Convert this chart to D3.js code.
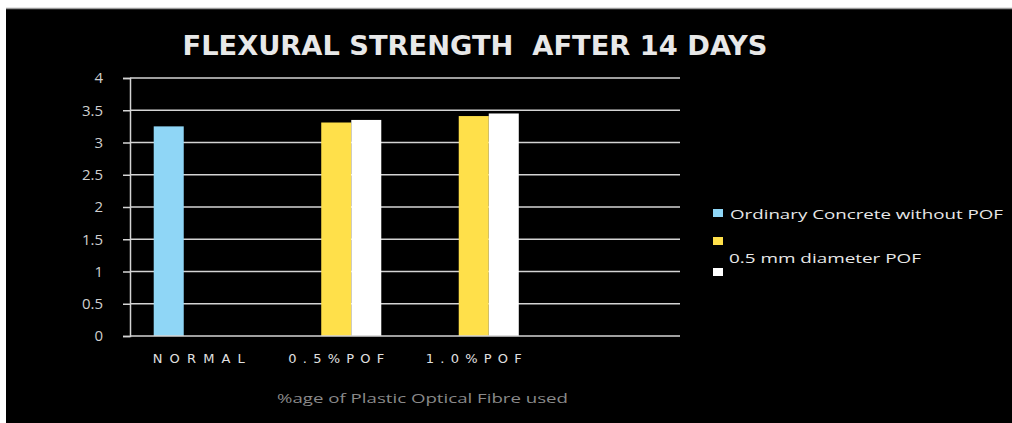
<!DOCTYPE html>
<html>
<head>
<meta charset="utf-8">
<script src="https://cdn.jsdelivr.net/npm/d3@7"></script>
<style>
  body { margin: 0; background: #fff; }
  svg { display: block; }
</style>
</head>
<body>
<div id="chart"></div>
<script>
// chart data
var categories = ["NORMAL", "0.5%POF", "1.0%POF", ""];
var seriesNames = ["Ordinary Concrete without POF", "0.5 mm diameter POF", "1.0 mm diameter POF"];
var seriesColors = ["#8fd6f6", "#ffe04a", "#ffffff"];
var ordinaryValues = [3.25, null, null, null];
var halfMmValues = [null, 3.31, 3.41, null];
var oneMmValues = [null, 3.35, 3.45, null];
var yTicks = [0, 0.5, 1, 1.5, 2, 2.5, 3, 3.5, 4];

var W = 1012, H = 423;
var margins = {top: 78, right: 332, bottom: 87, left: 130};

var svg = d3.select("#chart").append("svg")
    .attr("width", W)
    .attr("height", H);

// frame: black panel with white strip top/left
svg.append("rect").attr("x", 0).attr("y", 0).attr("width", W).attr("height", H).style("fill", "#fff");
svg.append("rect").attr("x", 6).attr("y", 8).attr("width", W - 6).attr("height", H - 8).style("fill", "#000");
svg.append("line").attr("x1", 6).attr("x2", W).attr("y1", 8.5).attr("y2", 8.5)
    .style("stroke", "#9a9a9a").style("stroke-width", 1.5);

var x = d3.scaleBand()
    .domain(categories)
    .range([margins.left, W - margins.right])
    .paddingInner(0.345)
    .paddingOuter(0.1725);

var xSeries = d3.scaleBand()
    .domain(d3.range(seriesNames.length))
    .range([0, x.bandwidth()]);

var y = d3.scaleLinear()
    .domain([0, 4])
    .range([H - margins.bottom, margins.top]);

// gridlines
svg.selectAll("line.grid")
    .data(yTicks.slice(1))
    .enter().append("line")
    .attr("class", "grid")
    .attr("x1", margins.left)
    .attr("x2", W - margins.right)
    .attr("y1", d => y(d))
    .attr("y2", d => y(d))
    .style("stroke", "#d4d4d4")
    .style("stroke-width", 1.5);

// bars
var allSeries = [ordinaryValues, halfMmValues, oneMmValues];
allSeries.forEach(function(vals, si) {
    svg.selectAll(".bar-s" + si)
        .data(vals.map((v, i) => ({cat: categories[i], value: v})).filter(d => d.value != null))
        .enter().append("rect")
        .attr("class", "bar-s" + si)
        .attr("x", d => x(d.cat) + xSeries(si))
        .attr("width", xSeries.bandwidth())
        .attr("y", d => y(d.value))
        .attr("height", d => y(0) - y(d.value))
        .style("fill", seriesColors[si]);
});

// y axis
var yAxis = d3.axisLeft(y)
    .tickValues(yTicks)
    .tickSize(7)
    .tickPadding(20)
    .tickFormat(d3.format("~g"));

svg.append("g")
    .attr("class", "y axis")
    .attr("transform", "translate(" + margins.left + ",0)")
    .call(yAxis)
    .call(g => g.selectAll("line").style("stroke", "#d4d4d4").style("stroke-width", 1.5))
    .call(g => g.select(".domain").style("stroke", "#d4d4d4").style("stroke-width", 1.5))
    .selectAll("text")
    .style("fill", "#cfcfcf")
    .style("font-family", "Open Sans, sans-serif")
    .style("font-size", "15px");

// x axis
svg.append("line")
    .attr("x1", margins.left).attr("x2", W - margins.right)
    .attr("y1", y(0)).attr("y2", y(0))
    .style("stroke", "#d4d4d4").style("stroke-width", 1.5);

svg.selectAll(".xlabel")
    .data(categories.filter(c => c !== ""))
    .enter().append("text")
    .attr("class", "xlabel")
    .attr("x", d => x(d) + x.bandwidth() / 2)
    .attr("y", 363)
    .attr("text-anchor", "middle")
    .attr("textLength", d => d === "NORMAL" ? 92 : 96)
    .attr("lengthAdjust", "spacing")
    .style("fill", "#e0e0e0")
    .style("font-family", "DejaVu Sans, sans-serif")
    .style("font-size", "13px")
    .text(d => d);

// title
svg.append("text")
    .attr("x", 475)
    .attr("y", 55)
    .attr("text-anchor", "middle")
    .attr("textLength", 585)
    .attr("lengthAdjust", "spacingAndGlyphs")
    .style("white-space", "pre")
    .style("fill", "#e8e8e8")
    .style("font-family", "Liberation Sans Narrow, DejaVu Sans Condensed, sans-serif")
    .style("font-weight", "bold")
    .style("font-size", "27px")
    .text("FLEXURAL STRENGTH  AFTER 14 DAYS");

// x axis title
svg.append("text")
    .attr("x", 277)
    .attr("y", 403)
    .attr("textLength", 291)
    .attr("lengthAdjust", "spacingAndGlyphs")
    .style("fill", "#8a8a8a")
    .style("font-family", "Open Sans, sans-serif")
    .style("font-size", "13px")
    .text("%age of Plastic Optical Fibre used");

// legend
var legendSquares = [209, 237, 268];
legendSquares.forEach(function(ly, i) {
    svg.append("rect")
        .attr("x", 713).attr("y", ly)
        .attr("width", 10).attr("height", 8)
        .style("fill", seriesColors[i]);
});

svg.append("text")
    .attr("x", 730).attr("y", 219)
    .attr("textLength", 273)
    .attr("lengthAdjust", "spacingAndGlyphs")
    .style("fill", "#e8e8e8")
    .style("font-family", "Open Sans, sans-serif")
    .style("font-size", "13px")
    .text(seriesNames[0]);

svg.append("text")
    .attr("x", 729).attr("y", 263)
    .attr("textLength", 192)
    .attr("lengthAdjust", "spacingAndGlyphs")
    .style("fill", "#e8e8e8")
    .style("font-family", "Open Sans, sans-serif")
    .style("font-size", "13px")
    .text(seriesNames[1]);
</script>
</body>
</html>
